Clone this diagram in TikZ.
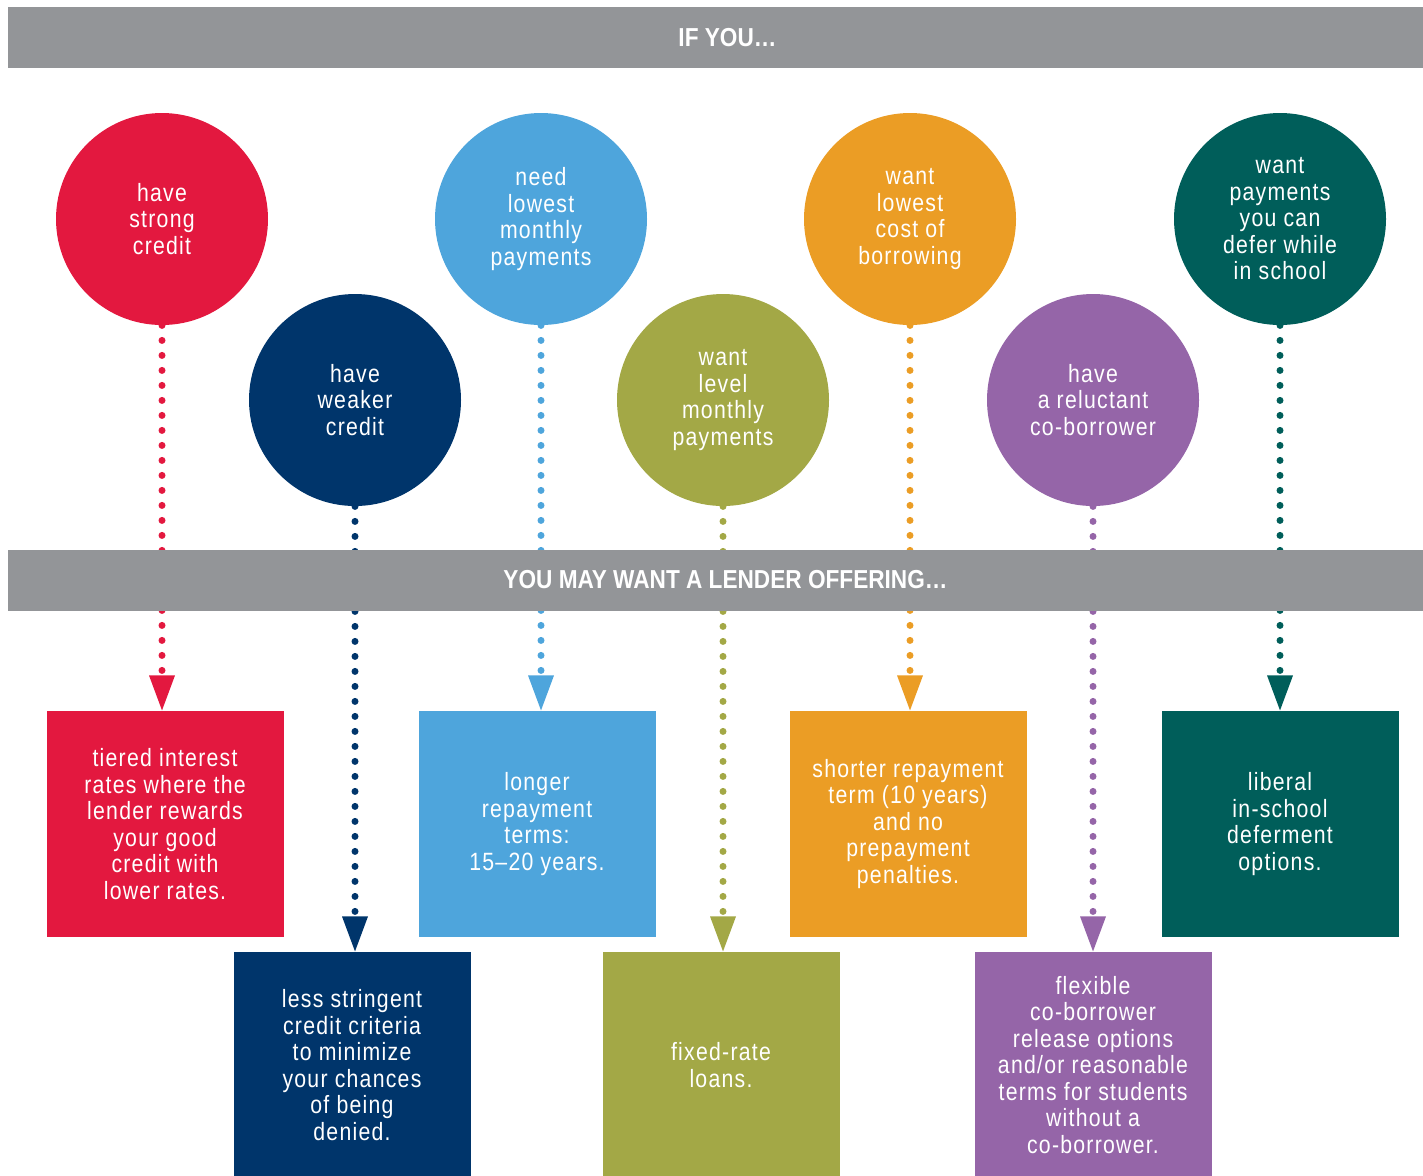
\documentclass[tikz,border=0pt]{standalone}
\usepackage{fontspec}
\setmainfont{Liberation Sans}[FakeStretch=0.85, LetterSpace=5]
\newfontfamily\bannerfont{Liberation Sans}[FakeStretch=0.87]
\usepackage{tikz}
\usetikzlibrary{shapes.geometric, arrows.meta, calc, positioning}
\definecolor{loanred}{RGB}{227,24,63}
\definecolor{loannavy}{RGB}{0,53,107}
\definecolor{loansky}{RGB}{78,165,220}
\definecolor{loanolive}{RGB}{163,168,70}
\definecolor{loanorange}{RGB}{235,157,37}
\definecolor{loanpurple}{RGB}{149,101,168}
\definecolor{loanteal}{RGB}{0,94,90}
\definecolor{loangray}{RGB}{147,149,152}
\tikzstyle{bubble} = [circle, minimum size=106pt, inner sep=0pt, text=white, align=center, font=\fontsize{12.5pt}{13.25pt}\selectfont]
\tikzstyle{offer} = [rectangle, minimum width=118.5pt, minimum height=113pt, inner sep=0pt, text=white, align=center, font=\fontsize{12.5pt}{13.25pt}\selectfont]
\tikzstyle{banner} = [rectangle, fill=loangray, minimum width=707.5pt, minimum height=30.5pt, inner sep=0pt, text=white, font=\bannerfont\bfseries\fontsize{13pt}{13pt}\selectfont]
\tikzstyle{dotarrow} = [line width=3.5pt, line cap=round, dash pattern=on 0pt off 7.5pt, -{Triangle[width=13pt, length=17.5pt, line width=0pt]}]

\begin{document}
\begin{tikzpicture}[x=0.5pt, y=-0.5pt]
		\useasboundingbox (0,0) rectangle (1423,1175);
		\node (StrongCredit) [bubble, fill=loanred] at (162,219) {have\\strong\\credit};
		\node (WeakerCredit) [bubble, fill=loannavy] at (355,400) {have\\weaker\\credit};
		\node (LowPayments) [bubble, fill=loansky] at (541,219) {need\\lowest\\monthly\\payments};
		\node (LevelPayments) [bubble, fill=loanolive] at (723,400) {want\\level\\monthly\\payments};
		\node (LowCost) [bubble, fill=loanorange] at (910,219) {want\\lowest\\cost of\\borrowing};
		\node (Reluctant) [bubble, fill=loanpurple] at (1093,400) {have\\a reluctant\\co-borrower};
		\node (Defer) [bubble, fill=loanteal] at (1280,219) {want\\payments\\you can\\defer while\\in school};
		\node (Tiered) [offer, fill=loanred, below = 192.5pt of StrongCredit, xshift=1.5pt] {tiered interest\\rates where the\\lender rewards\\your good\\credit with\\lower rates.};
		\node (Stringent) [offer, fill=loannavy, below = 222.5pt of WeakerCredit, xshift=-1.5pt] {less stringent\\credit criteria\\to minimize\\your chances\\of being\\denied.};
		\node (Longer) [offer, fill=loansky, below = 192.5pt of LowPayments, xshift=-2pt] {longer\\repayment\\terms:\\15–20 years.};
		\node (FixedRate) [offer, fill=loanolive, below = 222.5pt of LevelPayments, xshift=-1pt] {fixed-rate\\loans.};
		\node (Shorter) [offer, fill=loanorange, below = 192.5pt of LowCost, xshift=-1pt] {shorter repayment\\term (10 years)\\and no\\prepayment\\penalties.};
		\node (Release) [offer, fill=loanpurple, below = 222.5pt of Reluctant] {flexible\\co-borrower\\release options\\and/or reasonable\\terms for students\\without a\\co-borrower.};
		\node (Deferment) [offer, fill=loanteal, below = 192.5pt of Defer] {liberal\\in-school\\deferment\\options.};
		\draw [dotarrow, loanred] (StrongCredit.south) -- (StrongCredit.south |- Tiered.north);
		\draw [dotarrow, loannavy] (WeakerCredit.south) -- (WeakerCredit.south |- Stringent.north);
		\draw [dotarrow, loansky] (LowPayments.south) -- (LowPayments.south |- Longer.north);
		\draw [dotarrow, loanolive] (LevelPayments.south) -- (LevelPayments.south |- FixedRate.north);
		\draw [dotarrow, loanorange] (LowCost.south) -- (LowCost.south |- Shorter.north);
		\draw [dotarrow, loanpurple] (Reluctant.south) -- (Reluctant.south |- Release.north);
		\draw [dotarrow, loanteal] (Defer.south) -- (Defer.south |- Deferment.north);
		\node (IfYou) [banner, text depth=0pt] at (715.5,37.5) {\hspace{12pt}IF YOU…};
		\node (Offering) [banner] at (715.5,580) {\hspace{10pt}YOU MAY WANT A LENDER OFFERING…};
\end{tikzpicture}
\end{document}
